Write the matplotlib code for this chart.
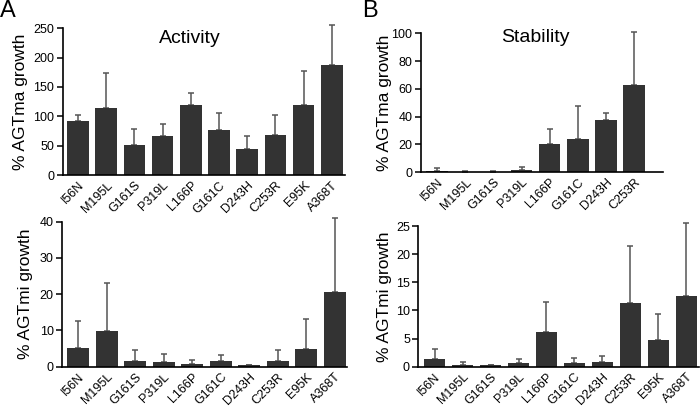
import numpy as np
import matplotlib
matplotlib.use("Agg")
import matplotlib.pyplot as plt

plt.rcParams['font.family'] = ['Liberation Sans', 'DejaVu Sans']

# mutants
labels_all = ['I56N', 'M195L', 'G161S', 'P319L', 'L166P', 'G161C', 'D243H', 'C253R', 'E95K', 'A368T']
labels_stab_ma = labels_all[:8]

# A - activity
act_ma = [92, 115, 51, 67, 120, 77, 45, 69, 119, 188]
act_ma_err = [11, 58, 28, 20, 20, 28, 21, 33, 59, 68]
act_mi = [5.1, 9.9, 1.7, 1.2, 0.7, 1.6, 0.4, 1.7, 4.9, 20.5]
act_mi_err = [7.6, 13.1, 3.0, 2.4, 1.2, 1.5, 0.0, 2.9, 8.2, 20.4]

# B - stability
stab_ma = [1.0, 0.3, 0.3, 1.5, 20.0, 23.8, 37.9, 62.9]
stab_ma_err = [2.0, 0.3, 0.4, 2.0, 11.0, 23.8, 4.5, 37.8]
stab_mi = [1.3, 0.3, 0.25, 0.6, 6.2, 0.65, 0.77, 11.4, 4.7, 12.6]
stab_mi_err = [1.8, 0.47, 0.0, 0.76, 5.3, 0.9, 1.2, 10.0, 4.6, 12.9]

BAR = '#333333'
ERR = '#555555'

fig = plt.figure(figsize=(7, 4.09), dpi=100)


def panel(rect, labels, vals, errs, ylim, yticks, xlim, ylabel, labx):
    ax = fig.add_axes(rect)
    x = np.arange(len(vals))
    ax.bar(x, vals, width=0.77, color=BAR, zorder=2)
    eb = ax.errorbar(x, vals, yerr=[np.zeros(len(errs)), errs], fmt='none',
                     ecolor=ERR, elinewidth=1.1, capsize=2.5, capthick=1.1, zorder=1)
    for art in eb.lines[1] + eb.lines[2]:
        art.set_clip_on(False)
    ax.set_xlim(*xlim)
    ax.set_ylim(*ylim)
    ax.set_yticks(yticks)
    ax.set_xticks(x)
    ax.set_xticklabels(labels)
    ax.tick_params(axis='x', length=0, pad=3, labelsize=9)
    ax.tick_params(axis='y', direction='out', length=4.5, width=1.1, labelsize=9, pad=1.5)
    plt.setp(ax.get_xticklabels(), rotation=45, ha='right', rotation_mode='anchor')
    for s in ['top', 'right']:
        ax.spines[s].set_visible(False)
    for s in ['left', 'bottom']:
        ax.spines[s].set_linewidth(1.2)
    ax.set_ylabel(ylabel, fontsize=12.5)
    ax.yaxis.set_label_coords(labx, 0.5)
    return ax


axA1 = panel([0.0896, 0.572, 0.403, 0.359], labels_all, act_ma, act_ma_err,
             (0, 250), [0, 50, 100, 150, 200, 250], (-0.54, 9.46), '% AGTma growth', -0.123)
axA1.text(0.45, 0.93, 'Activity', transform=axA1.transAxes, ha='center', va='center', fontsize=14)

axA2 = panel([0.0886, 0.1034, 0.407, 0.3545], labels_all, act_mi, act_mi_err,
             (0, 40), [0, 10, 20, 30, 40], (-0.56, 9.42), '% AGTmi growth', -0.102)

axB1 = panel([0.601, 0.5787, 0.346, 0.340], labels_stab_ma, stab_ma, stab_ma_err,
             (0, 100), [0, 20, 40, 60, 80, 100], (-0.59, 8.03), '% AGTma growth', -0.12)
axB1.text(0.475, 0.966, 'Stability', transform=axB1.transAxes, ha='center', va='center', fontsize=14)

axB2 = panel([0.5976, 0.1034, 0.401, 0.344], labels_all, stab_mi, stab_mi_err,
             (0, 25), [0, 5, 10, 15, 20, 25], (-0.58, 9.45), '% AGTmi growth', -0.094)

fig.text(0.0, 1.0, 'A', ha='left', va='top', fontsize=17)
fig.text(0.517, 1.0, 'B', ha='left', va='top', fontsize=17)

fig.savefig('out.png', dpi=100)
